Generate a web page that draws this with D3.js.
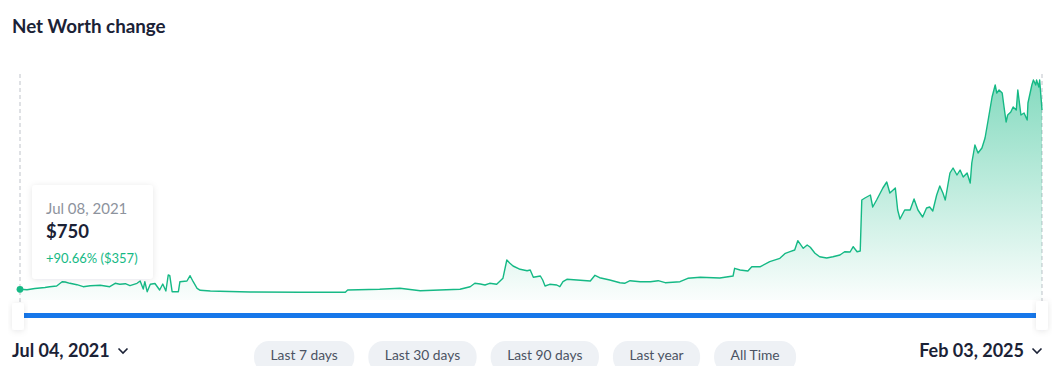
<!DOCTYPE html>
<html>
<head>
<meta charset="utf-8">
<script src="https://cdn.jsdelivr.net/npm/d3@7"></script>
<style>
  body { margin: 0; background: #fff; }
  svg { display: block; font-family: Lato, "Open Sans", sans-serif; }
</style>
</head>
<body>
<div id="chart"></div>
<script>
const width = 1053;
const height = 366;

// net worth history
const dates = [
  "2021-07-04","2021-07-13","2021-07-23","2021-08-05","2021-08-11","2021-08-20","2021-08-27","2021-08-31","2021-09-06","2021-09-15",
  "2021-09-23","2021-10-02","2021-10-15","2021-10-27","2021-11-03","2021-11-09","2021-11-16","2021-11-22","2021-12-01","2021-12-05",
  "2021-12-09","2021-12-11","2021-12-14","2021-12-18","2021-12-24","2021-12-30","2022-01-03","2022-01-07","2022-01-10","2022-01-12",
  "2022-01-15","2022-01-23","2022-01-25","2022-02-03","2022-02-07","2022-02-11","2022-02-16","2022-02-20","2022-03-05","2022-03-17",
  "2022-04-25","2022-06-28","2022-08-25","2022-08-28","2022-10-08","2022-11-03","2022-11-29","2022-12-24","2023-01-19","2023-02-01",
  "2023-02-07","2023-02-14","2023-02-20","2023-02-26","2023-03-07","2023-03-15","2023-03-20","2023-03-24","2023-03-28","2023-04-06",
  "2023-04-15","2023-04-19","2023-04-23","2023-05-02","2023-05-05","2023-05-08","2023-05-14","2023-05-23","2023-05-27","2023-05-31",
  "2023-06-05","2023-06-18","2023-07-05","2023-07-11","2023-07-17","2023-07-30","2023-08-12","2023-08-18","2023-08-25","2023-09-07",
  "2023-09-20","2023-09-30","2023-10-09","2023-10-28","2023-11-07","2023-11-23","2023-12-18","2024-01-04","2024-01-06","2024-01-13",
  "2024-01-23","2024-01-28","2024-02-08","2024-02-20","2024-03-04","2024-03-11","2024-03-17","2024-03-23","2024-03-27","2024-04-03",
  "2024-04-08","2024-04-12","2024-04-18","2024-04-24","2024-05-03","2024-05-11","2024-05-20","2024-05-26","2024-06-02","2024-06-06",
  "2024-06-11","2024-06-15","2024-06-17","2024-06-21","2024-06-28","2024-07-01","2024-07-06","2024-07-14","2024-07-19","2024-07-23",
  "2024-07-30","2024-08-02","2024-08-05","2024-08-11","2024-08-18","2024-08-23","2024-08-28","2024-09-03","2024-09-08","2024-09-12",
  "2024-09-16","2024-09-21","2024-09-25","2024-09-29","2024-10-02","2024-10-08","2024-10-12","2024-10-17","2024-10-21","2024-10-25",
  "2024-10-30","2024-11-03","2024-11-05","2024-11-09","2024-11-13","2024-11-18","2024-11-22","2024-11-26","2024-12-01","2024-12-05",
  "2024-12-07","2024-12-10","2024-12-14","2024-12-16","2024-12-19","2024-12-21","2024-12-25","2024-12-28","2025-01-01","2025-01-03",
  "2025-01-07","2025-01-11","2025-01-15","2025-01-16","2025-01-21","2025-01-23","2025-01-26","2025-01-27","2025-01-30","2025-01-31",
  "2025-02-03"
];
const netWorth = [
  214, 206, 230, 250, 266, 280, 366, 360, 334, 306,
  266, 286, 294, 266, 334, 314, 326, 286, 334, 380,
  220, 366, 166, 314, 330, 200, 320, 180, 500, 486,
  166, 166, 366, 380, 486, 366, 234, 194, 180, 174,
  160, 154, 154, 200, 214, 234, 186, 200, 214, 266,
  334, 320, 300, 334, 314, 434, 800, 734, 680, 614,
  586, 600, 454, 480, 400, 280, 314, 300, 266, 366,
  414, 400, 380, 494, 446, 400, 346, 334, 386, 366,
  366, 386, 346, 366, 434, 454, 440, 480, 634, 600,
  580, 666, 666, 766, 834, 934, 966, 1000, 1186, 1034,
  1100, 1054, 934, 866, 840, 866, 900, 966, 960, 1066,
  966, 980, 2000, 2040, 2100, 1860, 2000, 2240, 2360, 2140,
  2240, 1800, 1620, 1800, 1800, 2020, 1800, 1660, 1840, 1860,
  1780, 2100, 2280, 2140, 2000, 2540, 2640, 2500, 2600, 2460,
  2540, 2340, 2740, 3100, 2940, 3040, 3240, 3600, 4060, 4300,
  4140, 4200, 4140, 3900, 3560, 3700, 3760, 3860, 3800, 4200,
  3700, 3740, 3600, 3940, 4300, 4400, 4300, 4400, 4260, 4400,
  3800
];

const title = "Net Worth change";
const rangeLabels = ["Jul 04, 2021", "Feb 03, 2025"];
const periods = ["Last 7 days", "Last 30 days", "Last 90 days", "Last year", "All Time"];
const tooltipLines = ["Jul 08, 2021", "$750", "+90.66% ($357)"];

const green = "#15b985";
const dark = "#1b2236";

const parse = d3.timeParse("%Y-%m-%d");
const data = dates.map((d, i) => ({ date: parse(d), value: netWorth[i] }));

const x = d3.scaleTime()
  .domain(d3.extent(data, d => d.date))
  .range([20, 1042]);

const y = d3.scaleLinear()
  .domain([0, 4400])
  .range([300, 80]);

const svg = d3.select('#chart')
  .append('svg')
  .attr('width', width)
  .attr('height', height);

const defs = svg.append('defs');

const grad = defs.append('linearGradient')
  .attr('id', 'areaFill')
  .attr('gradientUnits', 'userSpaceOnUse')
  .attr('x1', 0).attr('x2', 0)
  .attr('y1', y(4400)).attr('y2', y(0));
grad.append('stop').attr('offset', '0%').attr('stop-color', green).attr('stop-opacity', 0.52);
grad.append('stop').attr('offset', '100%').attr('stop-color', green).attr('stop-opacity', 0.02);

const shadow = defs.append('filter')
  .attr('id', 'shadow')
  .attr('x', '-30%').attr('y', '-30%')
  .attr('width', '160%').attr('height', '160%');
shadow.append('feDropShadow')
  .attr('dx', 0).attr('dy', 1)
  .attr('stdDeviation', 3)
  .attr('flood-color', '#1b2236')
  .attr('flood-opacity', 0.1);

// title
svg.append('text')
  .attr('x', 12)
  .attr('y', 33)
  .attr('font-size', 18.8)
  .attr('font-weight', 700)
  .attr('fill', dark)
  .text(title);

// dashed range markers
x.domain().forEach(d => {
  svg.append('line')
    .attr('x1', x(d)).attr('x2', x(d))
    .attr('y1', 74).attr('y2', 312)
    .attr('stroke', '#bfc3ca')
    .attr('stroke-width', 1)
    .attr('stroke-dasharray', '4,3');
});

// area + line
const area = d3.area()
  .x(d => x(d.date))
  .y0(y(0))
  .y1(d => y(d.value));

const line = d3.line()
  .x(d => x(d.date))
  .y(d => y(d.value));

svg.append('path')
  .datum(data)
  .attr('d', area)
  .attr('fill', 'url(#areaFill)');

svg.append('path')
  .datum(data)
  .attr('d', line)
  .attr('fill', 'none')
  .attr('stroke', green)
  .attr('stroke-width', 1.4)
  .attr('stroke-linejoin', 'round');

// hover dot
svg.append('circle')
  .attr('cx', x(data[0].date))
  .attr('cy', y(data[0].value))
  .attr('r', 3.4)
  .attr('fill', green);

// tooltip card
const tip = svg.append('g').attr('transform', 'translate(32,185)');
tip.append('rect')
  .attr('width', 121)
  .attr('height', 94)
  .attr('rx', 4)
  .attr('fill', '#fff')
  .attr('filter', 'url(#shadow)');
tip.append('text')
  .attr('x', 14).attr('y', 29)
  .attr('font-size', 15)
  .attr('fill', '#8d939d')
  .text(tooltipLines[0]);
tip.append('text')
  .attr('x', 14).attr('y', 53)
  .attr('font-size', 18.5)
  .attr('font-weight', 700)
  .attr('fill', dark)
  .text(tooltipLines[1]);
tip.append('text')
  .attr('x', 14).attr('y', 78)
  .attr('font-size', 13)
  .attr('fill', green)
  .text(tooltipLines[2]);

// range slider
svg.append('rect')
  .attr('x', 22).attr('y', 313)
  .attr('width', 1016).attr('height', 5)
  .attr('fill', '#1677ea');

[[12, 303], [1036, 301]].forEach(([hx, hy]) => {
  svg.append('rect')
    .attr('x', hx).attr('y', hy)
    .attr('width', 12).attr('height', 330 - hy)
    .attr('rx', 3)
    .attr('fill', '#fff')
    .attr('filter', 'url(#shadow)');
});

// start / end labels with chevrons
const chevron = (cx) => svg.append('path')
  .attr('d', `M${cx - 4.5},348.5 L${cx},353 L${cx + 4.5},348.5`)
  .attr('fill', 'none')
  .attr('stroke', dark)
  .attr('stroke-width', 1.6);

svg.append('text')
  .attr('x', 12).attr('y', 357)
  .attr('font-size', 18)
  .attr('font-weight', 700)
  .attr('fill', dark)
  .text(rangeLabels[0]);
chevron(123);

svg.append('text')
  .attr('x', 1024).attr('y', 357)
  .attr('text-anchor', 'end')
  .attr('font-size', 18)
  .attr('font-weight', 700)
  .attr('fill', dark)
  .text(rangeLabels[1]);
chevron(1037);

// period buttons
let bx = 254;
periods.forEach(p => {
  const g = svg.append('g');
  const rect = g.append('rect');
  const t = g.append('text')
    .attr('y', 360)
    .attr('font-size', 13.8)
    .attr('fill', '#4b5363')
    .attr('text-anchor', 'middle')
    .text(p);
  const w = t.node().getComputedTextLength() + 33;
  rect.attr('x', bx).attr('y', 341)
    .attr('width', w).attr('height', 32)
    .attr('rx', 15)
    .attr('fill', '#eef1f5');
  t.attr('x', bx + w / 2);
  bx += w + 14;
});
</script>
</body>
</html>
